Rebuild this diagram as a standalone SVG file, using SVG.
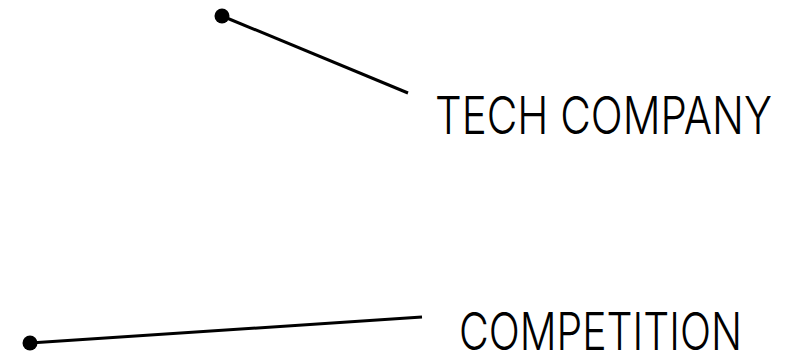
<svg xmlns="http://www.w3.org/2000/svg" width="803" height="355" viewBox="0 0 803 355">
<style>
.lbl{font-family:Inter,"Liberation Sans",sans-serif;font-weight:300;font-size:52px;fill:#000}
.ln{stroke:#000;stroke-width:3;fill:none}
.dot{fill:#000}
</style>
<rect width="803" height="355" fill="#fff"/>
<g id="connectors">
<line class="ln" x1="222" y1="16" x2="408" y2="93"/>
<circle class="dot" cx="222" cy="16" r="7.5"/>
<line class="ln" x1="30" y1="343" x2="422" y2="317"/>
<circle class="dot" cx="30" cy="343" r="7.5"/>
</g>
<g id="tech-company">
<text class="lbl" x="435" y="134" textLength="337" lengthAdjust="spacingAndGlyphs">TECH COMPANY</text>
</g>
<g id="competition">
<text class="lbl" x="459" y="350" textLength="283" lengthAdjust="spacingAndGlyphs">COMPETITION</text>
</g>
</svg>
